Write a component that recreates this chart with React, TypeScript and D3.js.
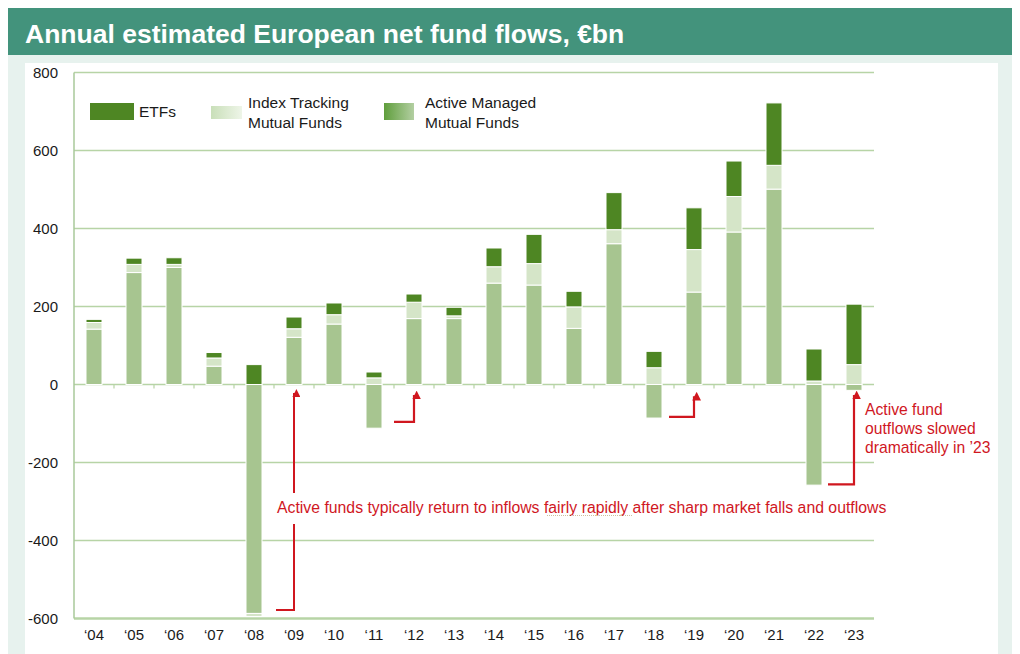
import React from "react";
import * as d3 from "d3";

// Calendar years ('04 .. '23)
const years = ["04", "05", "06", "07", "08", "09", "10", "11", "12", "13", "14", "15", "16", "17", "18", "19", "20", "21", "22", "23"];
// Net flows, €bn
const activeFlows = [142, 287, 300, 47, -587, 121, 155, -112, 169, 169, 260, 255, 144, 361, -86, 237, 391, 501, -258, -15];
const indexFlows = [17, 21, 8, 21, -8, 22, 24, 17, 42, 7, 42, 55, 55, 36, 43, 109, 91, 61, 9, 51];
const etfFlows = [8, 16, 17, 14, 51, 30, 30, 15, 21, 22, 48, 75, 40, 95, 42, 107, 91, 160, 82, 155];
const yTicks = [800, 600, 400, 200, 0, -200, -400, -600];

// red "recovery" arrows: year, trough they start from, where the head stops
const arrowYears = ["09", "12", "19", "23"];
const arrowFrom = [-578, -96, -83, -256];
const arrowTo = [-22, -27, -30, -27];
const arrowLead = [18, 20, 25, 26];

const width = 1020;
const height = 654;
const marginLeft = 74;
const marginRight = 146;
const RED = "#d0171f";
const GRID = "#b7d4a6";
const FONT = "'Liberation Sans', Arial, Helvetica, sans-serif";

export default function App() {
  const rows = years.map((yr, i) => ({
    year: yr,
    active: activeFlows[i],
    index: indexFlows[i],
    etf: etfFlows[i],
  }));

  const x = d3
    .scaleBand()
    .domain(years)
    .range([marginLeft, width - marginRight])
    .paddingInner(0.6)
    .paddingOuter(0.3);

  const y = d3.scaleLinear().domain([-600, 800]).range([618.5, 72.5]);

  const series = d3
    .stack<any>()
    .keys(["active", "index", "etf"])
    .offset(d3.stackOffsetDiverging)(rows);

  const colors: Record<string, string> = {
    active: "#a7c590",
    index: "#d5e5c8",
    etf: "#4e8623",
  };

  const step = x.step();
  const bw = x.bandwidth();
  const cx = (yr: string) => (x(yr) as number) + bw / 2;

  return (
    <div style={{ position: "absolute", left: 0, top: 0 }}>
      <svg width={width} height={height} style={{ display: "block", fontFamily: FONT }}>
        <defs>
          <linearGradient id="gIndex" x1="0" x2="1" y1="0" y2="0">
            <stop offset="0" stopColor="#c9dfb9" />
            <stop offset="1" stopColor="#eef5e8" />
          </linearGradient>
          <linearGradient id="gActive" x1="0" x2="1" y1="0" y2="0">
            <stop offset="0" stopColor="#5f9e3c" />
            <stop offset="1" stopColor="#b3cfa2" />
          </linearGradient>
          <marker id="head" viewBox="0 0 10 10" refX="5" refY="2" markerWidth="4" markerHeight="4" orient="auto-start-reverse" markerUnits="strokeWidth">
            <path d="M0,10 L5,0 L10,10 z" fill={RED} transform="rotate(90 5 5)" />
          </marker>
        </defs>

        {/* frame */}
        <rect x={0} y={0} width={width} height={height} fill="#fff" />
        <rect x={8} y={8} width={1004} height={47} fill="#43937c" />
        <text x={25} y={43} fill="#fff" fontSize={26.5} fontWeight="bold">
          Annual estimated European net fund flows, €bn
        </text>
        <rect x={8} y={55} width={1004} height={599} fill="#e7f2ee" />
        <rect x={25} y={63} width={973} height={591} fill="#fff" />

        {/* grid */}
        {yTicks.map((t) => (
          <g key={t}>
            <line
              x1={marginLeft}
              x2={width - marginRight}
              y1={y(t)}
              y2={y(t)}
              stroke={GRID}
              strokeWidth={t === -600 ? 2.5 : 1.6}
            />
            <text x={58} y={y(t) + 5.5} textAnchor="end" fontSize={15} fill="#1a1a1a">
              {t}
            </text>
          </g>
        ))}
        <line x1={marginLeft} x2={marginLeft} y1={y(800)} y2={y(-600)} stroke="#a9c99a" strokeWidth={1.5} />
        {years.slice(1).map((yr) => (
          <line
            key={"tk" + yr}
            x1={(x(yr) as number) - (step - bw) / 2}
            x2={(x(yr) as number) - (step - bw) / 2}
            y1={y(0)}
            y2={y(0) + 4}
            stroke={GRID}
            strokeWidth={1.2}
          />
        ))}

        {/* bars */}
        {series.map((s) => (
          <g key={s.key} fill={colors[s.key]}>
            {s.map((d: any) => {
              const top = y(Math.max(d[0], d[1]));
              const bot = y(Math.min(d[0], d[1]));
              if (bot - top < 0.1) return null;
              return (
                <rect
                  key={d.data.year}
                  x={x(d.data.year)}
                  y={top}
                  width={bw}
                  height={bot - top}
                  stroke="#fff"
                  strokeWidth={1}
                />
              );
            })}
          </g>
        ))}

        {/* x labels */}
        {years.map((yr) => (
          <text key={"xl" + yr} x={cx(yr)} y={640} textAnchor="middle" fontSize={15} fill="#1a1a1a"
            style={{ fontFamily: "'Liberation Sans Narrow', 'Arial Narrow', " + FONT }}>
            {"\u2018" + yr}
          </text>
        ))}

        {/* legend */}
        <rect x={90} y={103} width={44} height={17} fill={colors.etf} />
        <text x={139} y={117} fontSize={15.5} fill="#1a1a1a">ETFs</text>
        <rect x={211} y={106} width={31} height={13} fill="url(#gIndex)" />
        <text x={248} y={108} fontSize={15.5} fill="#1a1a1a">Index Tracking</text>
        <text x={248} y={128} fontSize={15.5} fill="#1a1a1a">Mutual Funds</text>
        <rect x={384} y={103} width={30} height={17} fill="url(#gActive)" />
        <text x={425} y={108} fontSize={15.5} fill="#1a1a1a">Active Managed</text>
        <text x={425} y={128} fontSize={15.5} fill="#1a1a1a">Mutual Funds</text>

        {/* arrows */}
        {arrowYears.map((yr, i) => {
          const ax = cx(yr);
          const y0 = y(arrowFrom[i]);
          const y1 = y(arrowTo[i]);
          const lead = arrowLead[i];
          if (yr === "09") {
            return (
              <g key={"ar" + yr} fill="none" stroke={RED} strokeWidth={2}>
                <path d={`M${ax - lead},${y0} H${ax} V524`} />
                <path d={`M${ax},493 V${y1}`} markerEnd="url(#head)" />
              </g>
            );
          }
          return (
            <path
              key={"ar" + yr}
              d={`M${ax - lead},${y0} H${ax} V${y1}`}
              fill="none"
              stroke={RED}
              strokeWidth={2.2}
              markerEnd="url(#head)"
            />
          );
        })}

        {/* annotations */}
        <text x={277} y={513} fontSize={15.8} fill={RED}>
          Active funds typically return to inflows fairly rapidly after sharp market falls and outflows
        </text>
        <line x1={547} x2={632} y1={515.5} y2={515.5} stroke="#cdbf9f" strokeWidth={1} strokeDasharray="1,1" />
        <text x={865} y={415} fontSize={15.7} fill={RED}>Active fund</text>
        <text x={865} y={434} fontSize={15.7} fill={RED}>outflows slowed</text>
        <text x={865} y={453} fontSize={15.7} fill={RED}>dramatically in ’23</text>
      </svg>
    </div>
  );
}
